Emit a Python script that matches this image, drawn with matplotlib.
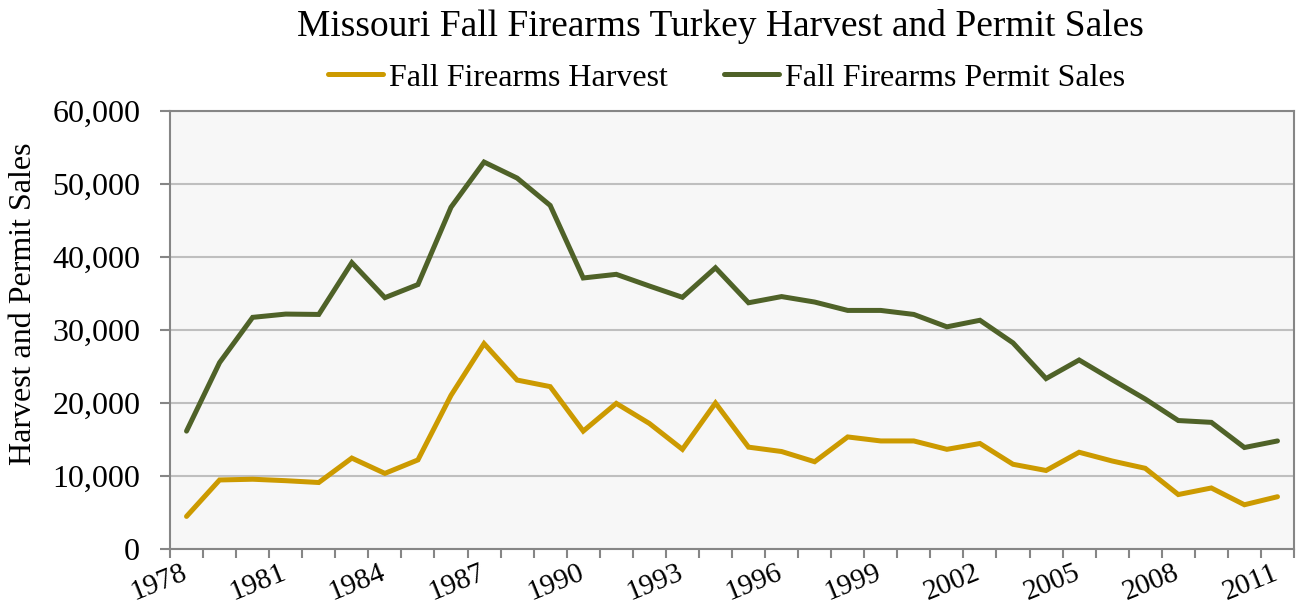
import matplotlib
matplotlib.use("Agg")
import matplotlib.pyplot as plt
from matplotlib.ticker import FuncFormatter, FixedLocator
from matplotlib.lines import Line2D
from matplotlib.transforms import ScaledTranslation

years = list(range(1978, 2012))
harvest = [4400, 9400, 9500, 9300, 9050, 12400, 10300, 12150, 21000, 28100,
           23100, 22200, 16100, 19900, 17150, 13600, 19950, 13900, 13300, 11900,
           15300, 14750, 14750, 13600, 14400, 11550, 10700, 13200, 12000, 11000,
           7400, 8300, 6000, 7100]
permits = [16100, 25500, 31700, 32150, 32100, 39200, 34400, 36200, 46800, 53000,
           50800, 47050, 37100, 37600, 36000, 34450, 38500, 33700, 34550, 33800,
           32650, 32650, 32100, 30400, 31300, 28200, 23300, 25850, 23150, 20500,
           17550, 17300, 13850, 14750]
series_names = ["Fall Firearms Harvest", "Fall Firearms Permit Sales"]
title = "Missouri Fall Firearms Turkey Harvest and Permit Sales"
ylabel = "Harvest and Permit Sales"
label_years = years[::3]

GOLD = "#CC9A00"
GREEN = "#4F6228"
SPINE = "#868686"
GRID = "#BFBFBF"

plt.rcParams['font.family'] = ['Liberation Serif', 'DejaVu Serif']

W, H = 1297, 612
fig = plt.figure(figsize=(W / 100, H / 100), dpi=100)
left, right, top, bottom = 170, 1294, 111, 548.5
ax = fig.add_axes([left / W, (H - bottom) / H, (right - left) / W, (bottom - top) / H])
ax.set_facecolor("#F7F7F7")

x = list(range(len(years)))
ax.plot(x, harvest, color=GOLD, lw=3.6, solid_joinstyle='miter', solid_capstyle='round', zorder=3)
ax.plot(x, permits, color=GREEN, lw=3.6, solid_joinstyle='miter', solid_capstyle='round', zorder=3)

ax.set_xlim(-0.5, len(years) - 0.5)
ax.set_ylim(0, 60000)
ax.set_yticks(range(0, 60001, 10000))
ax.yaxis.set_major_formatter(FuncFormatter(lambda v, p: f"{int(v):,}"))
ax.yaxis.grid(True, color=GRID, lw=1.5)
ax.set_axisbelow(True)

label_pos = [years.index(y) for y in label_years]
ax.set_xticks(label_pos)
ax.set_xticklabels([str(y) for y in label_years], rotation=22, ha='right', va='top')
ax.xaxis.set_minor_locator(FixedLocator([i - 0.5 for i in range(len(years) + 1)]))
ax.tick_params(axis='x', which='major', length=0, pad=8.2, labelsize=21)
ax.tick_params(axis='x', which='minor', length=6.5, width=1.5, color=SPINE)
ax.tick_params(axis='y', which='major', length=7, width=1.5, color=SPINE, pad=14.5, labelsize=23)
shift = ScaledTranslation(4.3 / 100, 0, fig.dpi_scale_trans)
for lab in ax.get_xticklabels():
    lab.set_transform(lab.get_transform() + shift)

for s in ax.spines.values():
    s.set_color(SPINE)
    s.set_linewidth(1.5)

fig.text(24 / W, (H - 304) / H, ylabel, rotation=90, ha='center', va='center', fontsize=23)
fig.text(720 / W, (H - 27) / H, title, ha='center', va='center', fontsize=27)

handles = [Line2D([], [], color=GOLD, lw=3.6, solid_capstyle='round'),
           Line2D([], [], color=GREEN, lw=3.6, solid_capstyle='round')]
fig.legend(handles, series_names, loc='center', bbox_to_anchor=(726.5 / W, (H - 78) / H),
           ncol=2, frameon=False, fontsize=23, handlelength=1.72, handletextpad=0.19,
           columnspacing=1.75, borderpad=0, borderaxespad=0)

fig.savefig("out.png", dpi=100)
